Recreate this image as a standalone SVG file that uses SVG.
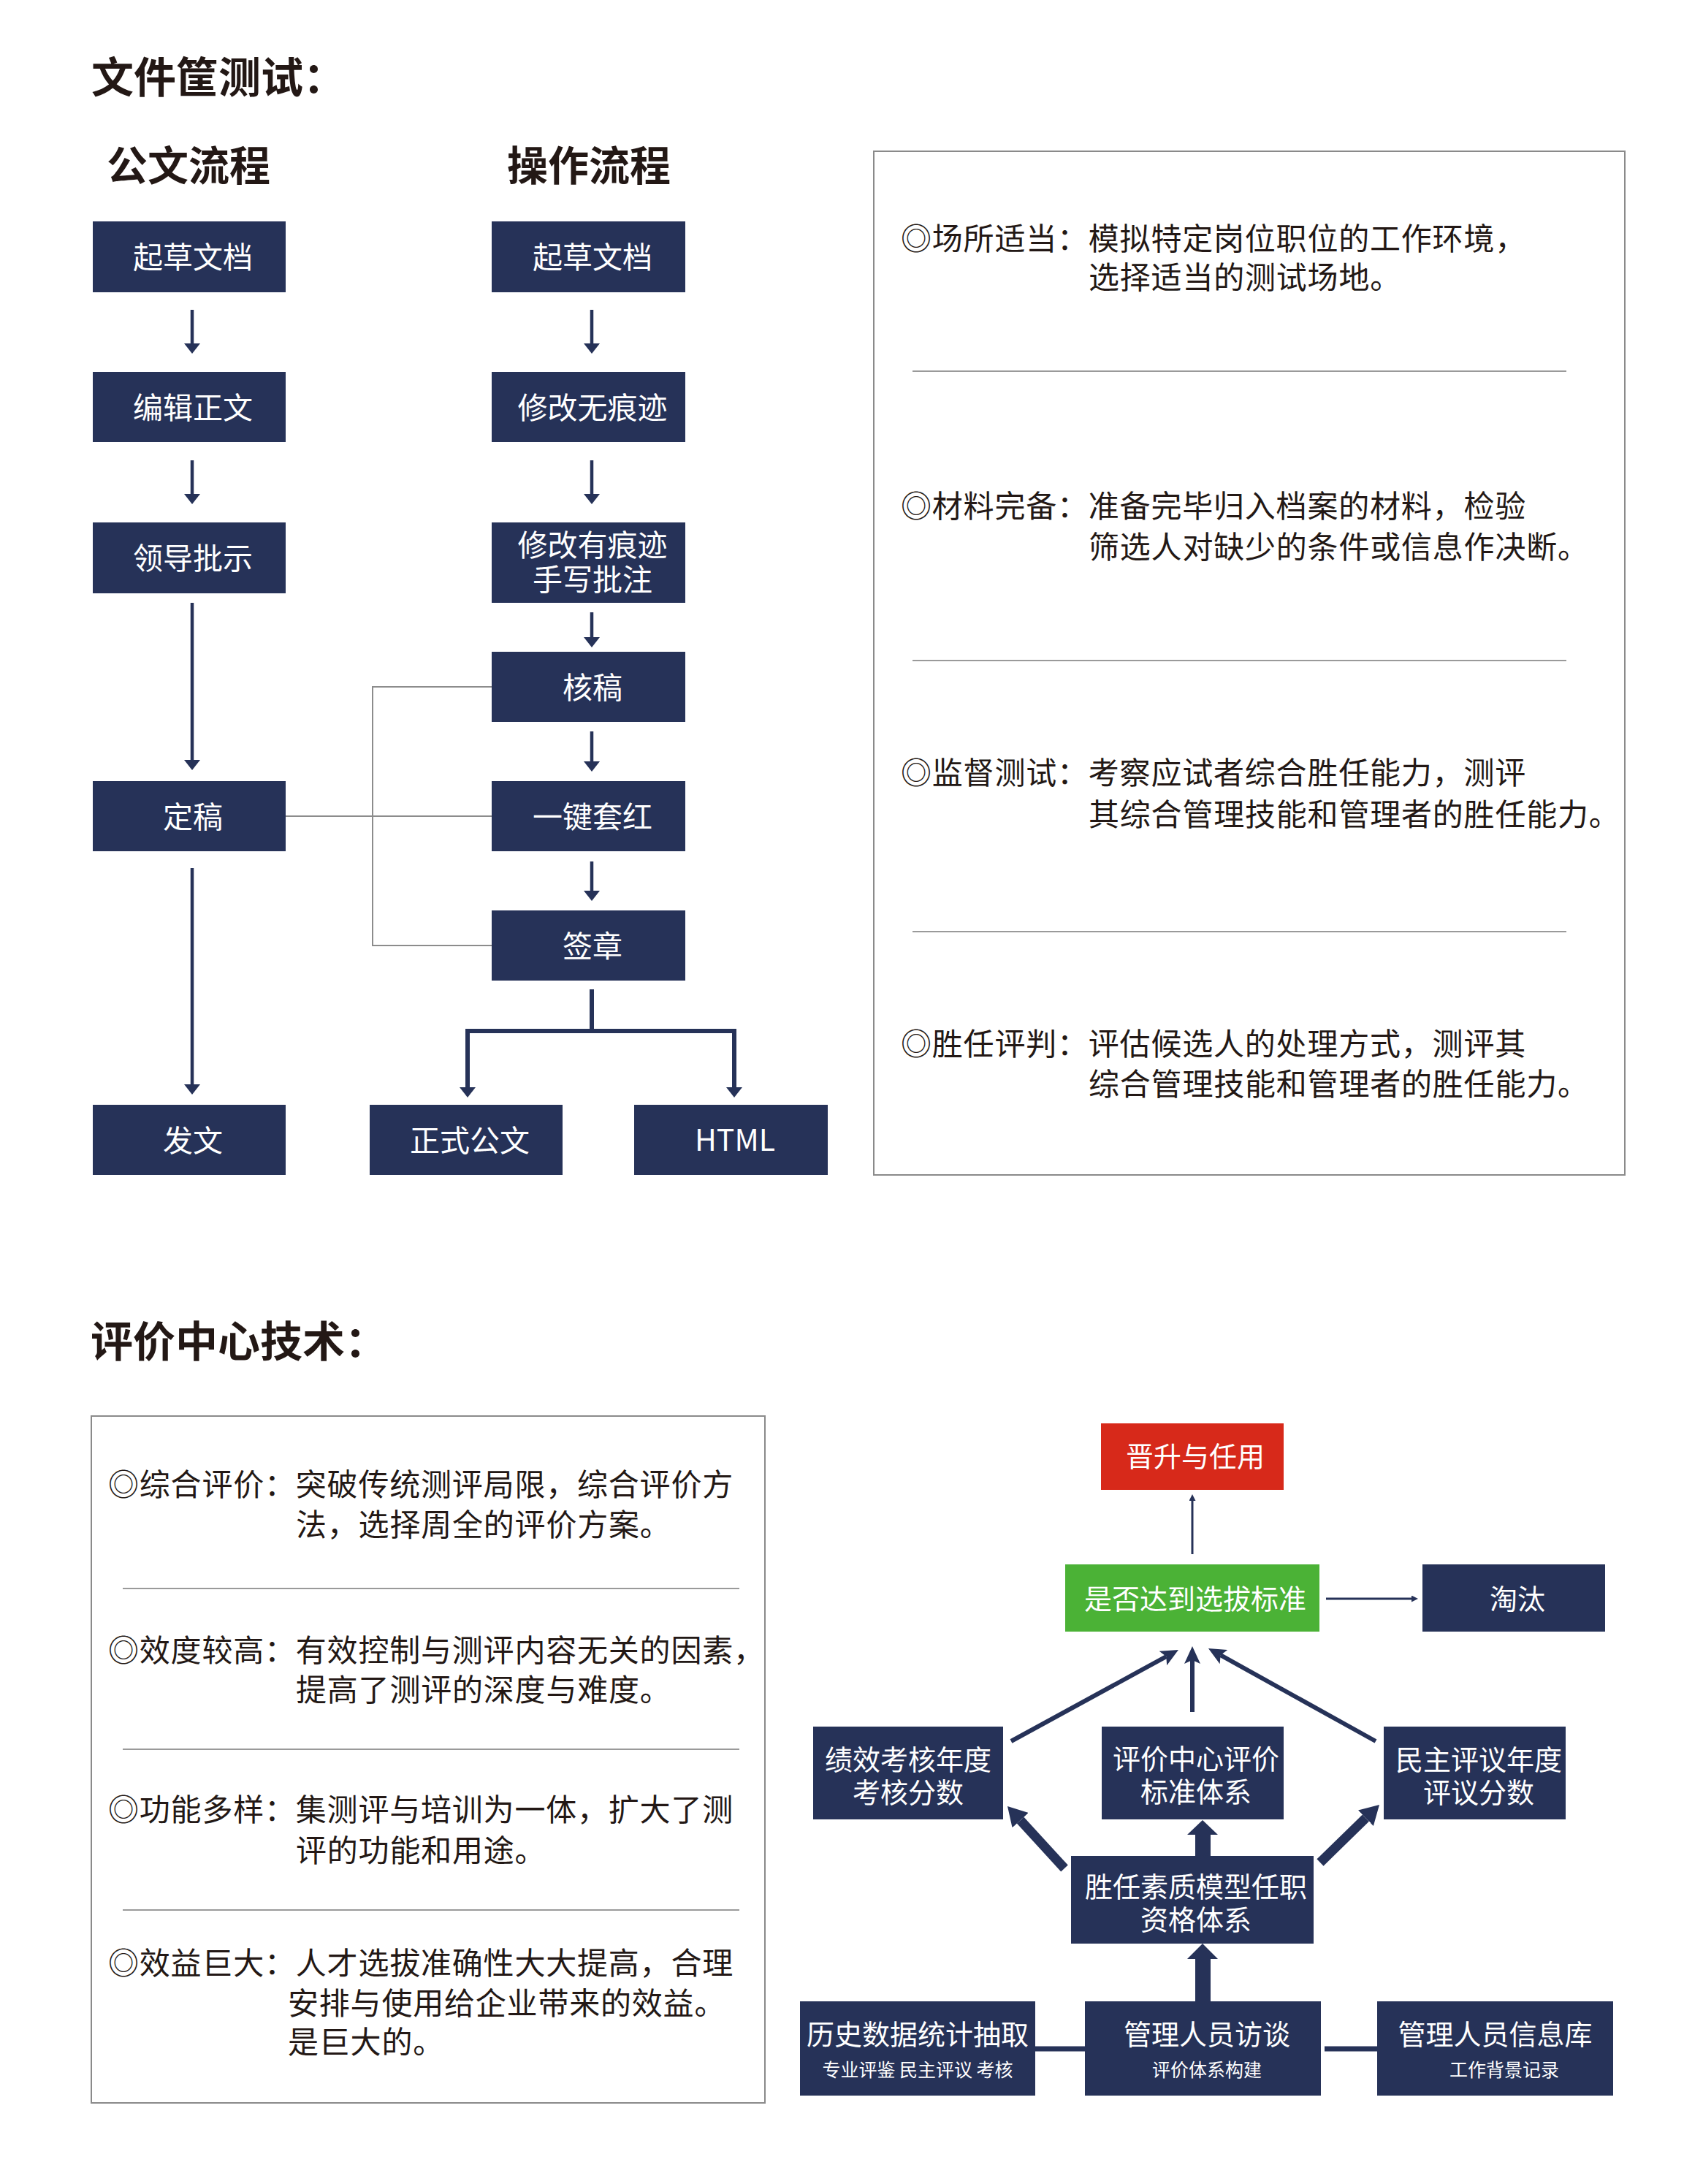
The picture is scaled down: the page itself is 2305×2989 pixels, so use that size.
<svg xmlns="http://www.w3.org/2000/svg" width="2305" height="2989" viewBox="0 0 2305 2989">
<style>
.bg{fill:#ffffff}
.box{fill:#263258}
.red{fill:#D7291A}
.green{fill:#4BB236}
.bt{font-family:"Noto Sans CJK SC","Noto Sans",sans-serif;fill:#ffffff;text-anchor:middle}
.b41{font-size:41px}
.b38{font-size:38px}
.b25{font-size:25px}
.title{font-family:"Noto Sans CJK SC",sans-serif;font-weight:700;fill:#231815}
.pt{font-family:"Noto Sans CJK SC",sans-serif;font-size:42px;letter-spacing:0.8px;fill:#231815}
.panel{fill:none;stroke:#8a8a8a;stroke-width:2}
.sep{stroke:#9a9a9a;stroke-width:2}
.gray{fill:none;stroke:#8c8c8c;stroke-width:2}
.ar{fill:none;stroke:#263258;stroke-width:4.5}
.fk{fill:none;stroke:#263258;stroke-width:6;stroke-linejoin:miter}
.thin{fill:none;stroke:#263258;stroke-width:3}
.dg{fill:none;stroke:#263258;stroke-width:6}
.tk{fill:none;stroke:#263258;stroke-width:13}
.blk{fill:#263258}
</style>
<defs>
<marker id="mA" markerUnits="userSpaceOnUse" viewBox="0 0 14 22" markerWidth="14" markerHeight="22" refX="0" refY="11" orient="auto"><path d="M0,0 L14,11 L0,22 Z" fill="#263258"/></marker>
<marker id="mS" markerUnits="userSpaceOnUse" viewBox="0 0 9 9" markerWidth="9" markerHeight="9" refX="0" refY="4.5" orient="auto"><path d="M0,0 L9,4.5 L0,9 Z" fill="#263258"/></marker>
<marker id="mD" markerUnits="userSpaceOnUse" viewBox="0 0 24 22" markerWidth="24" markerHeight="22" refX="5" refY="11" orient="auto"><path d="M0,0 L24,11 L0,22 L5,11 Z" fill="#263258"/></marker>
<marker id="mT" markerUnits="userSpaceOnUse" viewBox="0 0 26 30" markerWidth="26" markerHeight="30" refX="0" refY="15" orient="auto"><path d="M0,0 L26,15 L0,30 Z" fill="#263258"/></marker>
</defs>
<rect class="bg" x="0" y="0" width="2305" height="2989"/>

<!-- titles -->
<text class="title" x="125" y="127" font-size="58">文件筐测试：</text>
<text class="title" x="258" y="247" font-size="56" text-anchor="middle">公文流程</text>
<text class="title" x="806" y="247" font-size="56" text-anchor="middle">操作流程</text>
<text class="title" x="124" y="1857" font-size="58">评价中心技术：</text>

<!-- connectors -->
<g id="connectors">
  <path class="gray" d="M673,940 H510 V1294 H673"/>
  <path class="gray" d="M391,1117 H673"/>
  <line class="ar" x1="263" y1="424" x2="263" y2="470" marker-end="url(#mA)"/>
  <line class="ar" x1="263" y1="630" x2="263" y2="676" marker-end="url(#mA)"/>
  <line class="ar" x1="263" y1="825" x2="263" y2="1040" marker-end="url(#mA)"/>
  <line class="ar" x1="263" y1="1188" x2="263" y2="1484" marker-end="url(#mA)"/>
  <line class="ar" x1="810" y1="424" x2="810" y2="470" marker-end="url(#mA)"/>
  <line class="ar" x1="810" y1="630" x2="810" y2="676" marker-end="url(#mA)"/>
  <line class="ar" x1="810" y1="838" x2="810" y2="872" marker-end="url(#mA)"/>
  <line class="ar" x1="810" y1="1001" x2="810" y2="1042" marker-end="url(#mA)"/>
  <line class="ar" x1="810" y1="1179" x2="810" y2="1219" marker-end="url(#mA)"/>
  <path class="fk" d="M810,1354 V1411 H640 V1488" marker-end="url(#mA)"/>
  <path class="fk" d="M810,1411 H1005 V1488" marker-end="url(#mA)"/>

  <line class="thin" x1="1632" y1="2127" x2="1632" y2="2054" marker-end="url(#mS)"/>
  <line class="thin" x1="1815" y1="2188" x2="1932" y2="2188" marker-end="url(#mS)"/>
  <line class="dg" x1="1384" y1="2383" x2="1596.3" y2="2267.1" marker-end="url(#mD)"/>
  <line class="dg" x1="1632" y1="2343" x2="1632" y2="2272" marker-end="url(#mD)"/>
  <line class="dg" x1="1883" y1="2383" x2="1670.6" y2="2265.2" marker-end="url(#mD)"/>
  <line class="tk" x1="1457" y1="2557" x2="1396.6" y2="2491.2" marker-end="url(#mT)"/>
  <line class="tk" x1="1807" y1="2549" x2="1869.4" y2="2488.2" marker-end="url(#mT)"/>
  <polygon class="blk" points="1636,2540 1636,2511 1625,2511 1646,2491 1667,2511 1657,2511 1657,2540"/>
  <polygon class="blk" points="1636,2739 1636,2681 1625,2681 1646,2660 1667,2681 1657,2681 1657,2739"/>
  <line x1="1417" y1="2804" x2="1485" y2="2804" stroke="#263258" stroke-width="7"/>
  <line x1="1813" y1="2804" x2="1885" y2="2804" stroke="#263258" stroke-width="7"/>
</g>

<!-- top flow nodes: left column -->
<g id="n-l1"><rect class="box" x="127" y="303" width="264" height="97"/><text class="bt b41" x="264" y="367">起草文档</text></g>
<g id="n-l2"><rect class="box" x="127" y="509" width="264" height="96"/><text class="bt b41" x="264" y="573">编辑正文</text></g>
<g id="n-l3"><rect class="box" x="127" y="715" width="264" height="97"/><text class="bt b41" x="264" y="779">领导批示</text></g>
<g id="n-l4"><rect class="box" x="127" y="1069" width="264" height="96"/><text class="bt b41" x="264" y="1133">定稿</text></g>
<g id="n-l5"><rect class="box" x="127" y="1512" width="264" height="96"/><text class="bt b41" x="264" y="1576">发文</text></g>

<!-- top flow nodes: right column -->
<g id="n-r1"><rect class="box" x="673" y="303" width="265" height="97"/><text class="bt b41" x="811" y="367">起草文档</text></g>
<g id="n-r2"><rect class="box" x="673" y="509" width="265" height="96"/><text class="bt b41" x="811" y="573">修改无痕迹</text></g>
<g id="n-r3"><rect class="box" x="673" y="715" width="265" height="110"/><text class="bt b41" y="761"><tspan x="811">修改有痕迹</tspan><tspan x="811" dy="47">手写批注</tspan></text></g>
<g id="n-r4"><rect class="box" x="673" y="892" width="265" height="96"/><text class="bt b41" x="811" y="956">核稿</text></g>
<g id="n-r5"><rect class="box" x="673" y="1069" width="265" height="96"/><text class="bt b41" x="811" y="1133">一键套红</text></g>
<g id="n-r6"><rect class="box" x="673" y="1246" width="265" height="96"/><text class="bt b41" x="811" y="1310">签章</text></g>
<g id="n-r7"><rect class="box" x="506" y="1512" width="264" height="96"/><text class="bt b41" x="643" y="1576">正式公文</text></g>
<g id="n-r8"><rect class="box" x="868" y="1512" width="265" height="96"/><text class="bt b41" x="1006" y="1575">HTML</text></g>

<!-- right panel -->
<g id="panel-top">
  <rect class="panel" x="1196" y="207" width="1028" height="1401"/>
  <line class="sep" x1="1249" y1="508" x2="2144" y2="508"/>
  <line class="sep" x1="1249" y1="904" x2="2144" y2="904"/>
  <line class="sep" x1="1249" y1="1275" x2="2144" y2="1275"/>
  <text class="pt" x="1233" y="342">◎场所适当：模拟特定岗位职位的工作环境，</text>
  <text class="pt" x="1490" y="395">选择适当的测试场地。</text>
  <text class="pt" x="1233" y="708">◎材料完备：准备完毕归入档案的材料，检验</text>
  <text class="pt" x="1490" y="764">筛选人对缺少的条件或信息作决断。</text>
  <text class="pt" x="1233" y="1073">◎监督测试：考察应试者综合胜任能力，测评</text>
  <text class="pt" x="1490" y="1130">其综合管理技能和管理者的胜任能力。</text>
  <text class="pt" x="1233" y="1444">◎胜任评判：评估候选人的处理方式，测评其</text>
  <text class="pt" x="1490" y="1499">综合管理技能和管理者的胜任能力。</text>
</g>

<!-- left bottom panel -->
<g id="panel-bottom">
  <rect class="panel" x="125" y="1938" width="922" height="940"/>
  <line class="sep" x1="168" y1="2174" x2="1012" y2="2174"/>
  <line class="sep" x1="168" y1="2394" x2="1012" y2="2394"/>
  <line class="sep" x1="168" y1="2614" x2="1012" y2="2614"/>
  <text class="pt" x="148" y="2047">◎综合评价：突破传统测评局限，综合评价方</text>
  <text class="pt" x="405" y="2102">法，选择周全的评价方案。</text>
  <text class="pt" x="148" y="2274">◎效度较高：有效控制与测评内容无关的因素，</text>
  <text class="pt" x="405" y="2328">提高了测评的深度与难度。</text>
  <text class="pt" x="148" y="2492">◎功能多样：集测评与培训为一体，扩大了测</text>
  <text class="pt" x="405" y="2548">评的功能和用途。</text>
  <text class="pt" y="2702"><tspan x="148">◎效益巨大：人才选拔准确性大大提高，合理</tspan><tspan x="394" dy="55">安排与使用给企业带来的效益。</tspan><tspan x="394" dy="53">是巨大的。</tspan></text>
</g>

<!-- lower flow nodes -->
<g id="n-promote"><rect class="red" x="1507" y="1948" width="250" height="91"/><text class="bt b38" x="1636" y="2007">晋升与任用</text></g>
<g id="n-criteria"><rect class="green" x="1458" y="2141" width="348" height="92"/><text class="bt b38" x="1636" y="2202">是否达到选拔标准</text></g>
<g id="n-out"><rect class="box" x="1947" y="2141" width="250" height="92"/><text class="bt b38" x="2077" y="2202">淘汰</text></g>
<g id="n-perf"><rect class="box" x="1113" y="2363" width="260" height="127"/><text class="bt b38" y="2422"><tspan x="1243">绩效考核年度</tspan><tspan x="1243" dy="45">考核分数</tspan></text></g>
<g id="n-std"><rect class="box" x="1508" y="2363" width="249" height="127"/><text class="bt b38" y="2421"><tspan x="1637">评价中心评价</tspan><tspan x="1637" dy="45">标准体系</tspan></text></g>
<g id="n-demo"><rect class="box" x="1894" y="2363" width="249" height="127"/><text class="bt b38" y="2422"><tspan x="2024">民主评议年度</tspan><tspan x="2024" dy="45">评议分数</tspan></text></g>
<g id="n-comp"><rect class="box" x="1466" y="2540" width="332" height="120"/><text class="bt b38" y="2596"><tspan x="1637">胜任素质模型任职</tspan><tspan x="1637" dy="45">资格体系</tspan></text></g>
<g id="n-hist"><rect class="box" x="1095" y="2739" width="322" height="129"/><text class="bt" y="2798"><tspan class="b38" x="1256">历史数据统计抽取</tspan><tspan class="b25" x="1256" dy="44">专业评鉴 民主评议 考核</tspan></text></g>
<g id="n-int"><rect class="box" x="1485" y="2739" width="323" height="129"/><text class="bt" y="2798"><tspan class="b38" x="1652">管理人员访谈</tspan><tspan class="b25" x="1652" dy="44">评价体系构建</tspan></text></g>
<g id="n-db"><rect class="box" x="1885" y="2739" width="323" height="129"/><text class="bt" y="2798"><tspan class="b38" x="2046.5">管理人员信息库</tspan><tspan class="b25" x="2059" dy="44">工作背景记录</tspan></text></g>
</svg>
